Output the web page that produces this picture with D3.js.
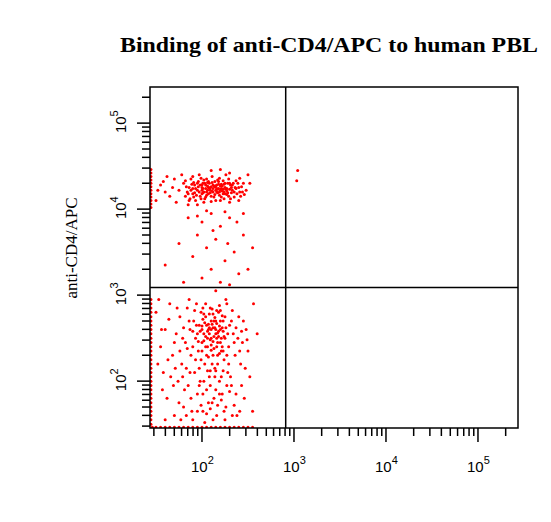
<!DOCTYPE html>
<html><head><meta charset="utf-8">
<script src="https://cdn.jsdelivr.net/npm/d3@7"></script>
<style>body{margin:0;background:#fff}</style></head>
<body><svg id="c" width="551" height="522"></svg>
<script>
// data in log10 units [log x, log y]
const upperCluster=[[1.75,4.22],[1.8,4.3],[1.82,4.15],[1.86,4.25],[1.88,4.35],[1.9,4.18],[1.92,4.28],[1.93,4.1],[1.95,4.22],[1.96,4.32],[1.97,4.4],[1.98,4.15],[2.0,4.25],[2.01,4.3],[2.02,4.2],[2.03,4.12],[2.04,4.28],[2.05,4.35],[2.06,4.22],[2.07,4.18],[2.08,4.3],[2.09,4.25],[2.1,4.15],[2.11,4.38],[2.12,4.2],[2.13,4.27],[2.14,4.32],[2.15,4.1],[2.16,4.24],[2.17,4.19],[2.18,4.29],[2.19,4.36],[2.2,4.22],[2.21,4.14],[2.22,4.27],[2.23,4.33],[2.24,4.2],[2.25,4.25],[2.26,4.4],[2.27,4.17],[2.28,4.3],[2.3,4.23],[2.31,4.12],[2.33,4.28],[2.35,4.2],[2.37,4.33],[2.4,4.25],[2.42,4.15],[2.45,4.3],[2.48,4.22],[2.5,4.4],[1.85,4.05],[1.95,4.05],[2.1,4.45],[2.2,4.46],[2.3,4.42],[1.6,4.2],[1.55,4.28],[1.65,4.15],[1.7,4.35],[1.5,4.1],[1.62,4.38],[1.72,4.08],[1.78,4.4],[2.0,4.18],[2.05,4.2],[2.1,4.26],[2.15,4.22],[2.0,4.22],[2.08,4.24],[2.12,4.28],[2.18,4.24],[2.25,4.18],[1.98,4.28],[2.02,4.34],[1.84,4.2],[1.9,4.24],[1.94,4.16],[1.99,4.36],[2.04,4.14],[2.07,4.32],[2.11,4.21],[2.14,4.17],[2.17,4.34],[2.21,4.29],[2.24,4.12],[2.27,4.24],[2.29,4.35],[2.32,4.19],[2.34,4.3],[2.38,4.18],[2.41,4.36],[2.44,4.2],[2.36,4.25],[1.87,4.12],[1.91,4.31],[2.06,4.27],[2.16,4.28],[2.19,4.2],[2.23,4.23],[1.97,4.2],[2.01,4.24],
[1.83,4.26],[1.85,4.18],[1.89,4.29],[1.91,4.14],[1.93,4.24],[1.96,4.26],[1.99,4.12],[2.01,4.19],[2.03,4.3],[2.05,4.16],[2.07,4.25],[2.09,4.19],[2.11,4.31],[2.13,4.14],[2.15,4.27],[2.17,4.23],[2.19,4.16],[2.21,4.24],[2.23,4.18],[2.25,4.3],[2.27,4.21],[2.29,4.15],[2.31,4.28],[2.33,4.22],[2.35,4.14],[2.37,4.24],[2.39,4.3],[2.41,4.2],[2.43,4.26],[2.46,4.17],[1.88,4.22],[1.92,4.19],[1.95,4.3],[2.0,4.28],[2.04,4.24],[2.06,4.31],[2.09,4.22],[2.12,4.24],[2.14,4.26],[2.16,4.2],[2.18,4.32],[2.2,4.27],[2.22,4.21],[2.24,4.29],[2.26,4.23],[2.28,4.19],[2.3,4.3],[2.32,4.25],[1.82,4.33],[1.86,4.1],[1.9,4.38],[2.02,4.08],[2.1,4.09],[2.2,4.1],[2.3,4.08],[2.4,4.1],[2.52,4.3],[1.68,4.25],[1.58,4.32],[1.52,4.22]];
const lowerCluster=[[1.5,2.8],[1.55,2.4],[1.58,2.1],[1.6,2.6],[1.62,1.8],[1.65,2.9],[1.68,2.3],[1.7,1.6],[1.72,2.55],[1.74,2.0],[1.76,2.75],[1.78,2.2],[1.8,1.7],[1.82,2.45],[1.84,2.85],[1.85,1.95],[1.87,2.6],[1.88,2.3],[1.9,1.55],[1.91,2.7],[1.92,2.1],[1.93,2.5],[1.94,2.9],[1.95,1.85],[1.96,2.35],[1.97,2.65],[1.98,2.0],[1.99,2.8],[2.0,2.45],[2.01,1.65],[2.02,2.55],[2.03,2.2],[2.04,2.75],[2.05,1.9],[2.06,2.4],[2.07,2.6],[2.08,2.05],[2.09,2.85],[2.1,2.5],[2.11,1.75],[2.12,2.3],[2.13,2.7],[2.14,2.15],[2.15,2.55],[2.16,1.6],[2.17,2.45],[2.18,2.8],[2.19,2.0],[2.2,2.6],[2.21,2.35],[2.22,1.85],[2.23,2.7],[2.24,2.25],[2.25,2.5],[2.26,1.7],[2.27,2.9],[2.28,2.1],[2.29,2.4],[2.3,2.65],[2.32,1.95],[2.34,2.55],[2.36,2.3],[2.38,1.6],[2.4,2.75],[2.42,2.2],[2.44,2.45],[2.46,1.8],[2.48,2.6],[2.5,2.35],[2.52,2.05],[2.0,2.6],[2.05,2.65],[2.1,2.7],[2.15,2.6],[2.2,2.7],[2.08,2.55],[2.12,2.62],[2.18,2.58],[2.03,2.68],[2.14,2.74],[2.22,2.62],[2.06,2.5],[2.16,2.5],[2.1,2.42],[2.2,2.45],[2.0,2.35],[2.25,2.75],[1.95,2.55],[2.11,2.84],[2.19,2.88],[2.04,2.9],[2.28,2.55],[2.13,2.38],[2.07,2.28],[2.17,2.2],[2.23,2.12],[2.02,2.0],[2.09,1.95],[2.15,1.9],[2.21,1.78],[1.99,1.72],[2.05,1.62],[2.12,1.55],[2.24,1.65],[2.3,1.88],[1.88,1.8],[1.83,2.15],[1.79,2.5],[1.86,2.95],[1.92,2.82],[2.26,2.95],[2.33,2.82],[2.39,2.5],[2.45,2.7],[2.47,2.15],[2.35,1.72],[1.97,2.15],[2.01,2.85],[2.06,2.12],[2.19,2.32],[2.14,2.05],[2.27,2.3],[2.1,2.6],[2.16,2.67],[2.02,2.47],[2.24,2.52],[1.9,2.4],[1.94,2.65],[2.08,2.78],[2.2,2.82],[1.73,2.85],[1.66,2.05],[1.6,1.55],[1.53,2.95],[2.56,2.9],[2.6,2.55],[2.55,1.65],
[1.98,2.58],[2.01,2.72],[2.04,2.52],[2.07,2.66],[2.09,2.48],[2.11,2.66],[2.13,2.52],[2.15,2.7],[2.17,2.56],[2.19,2.64],[2.21,2.5],[2.23,2.58],[2.0,2.64],[2.06,2.58],[2.12,2.46],[2.18,2.52],[2.14,2.62],[2.08,2.62],[2.16,2.4],[2.1,2.36],[2.22,2.4],[2.04,2.4],[1.96,2.46],[2.26,2.62],[2.02,2.78],[2.12,2.78],[2.22,2.76],[1.9,2.58],[1.84,2.38],[1.8,2.62],[1.86,2.7],[1.76,2.35],[1.7,2.45],[1.64,2.72],[1.56,2.6],[1.52,2.2],[1.57,1.9],[1.63,2.25],[1.69,1.95],[1.75,1.75],[1.81,1.9],[1.87,2.1],[1.93,2.25],[1.99,2.25],[2.05,2.3],[2.11,2.2],[2.17,2.3],[2.23,2.35],[2.29,2.2],[2.35,2.45],[2.41,2.35],[2.32,2.7],[2.37,2.62],[2.43,2.58],[2.49,2.48],[2.31,2.05],[2.27,1.95],[2.19,1.85],[2.13,1.8],[2.07,1.75],[2.01,1.85],[1.95,1.65],[1.89,1.65],[2.03,1.52],[2.09,1.68],[2.17,1.72],[2.25,1.55],[2.33,1.6],[2.41,1.65],[2.43,1.95],[2.37,1.85],[1.77,1.55],[1.83,1.6],[1.71,2.15],[1.79,2.05],[2.09,2.12],[2.15,2.12],[1.97,1.95],[2.21,2.05],[2.16,2.82]];
const sparsePoints=[[1.85,3.9],[2.0,3.85],[2.1,3.95],[2.2,3.8],[2.3,3.9],[2.45,3.7],[1.95,3.7],[2.15,3.65],[2.05,3.55],[2.35,3.5],[1.9,3.45],[2.25,3.4],[2.1,3.3],[2.4,3.25],[2.0,3.2],[1.8,3.15],[2.2,3.15],[2.5,3.3],[2.3,3.12],[2.15,3.05],[1.75,3.6],[2.45,3.95],[2.55,3.55],[1.6,3.35],[2.12,3.75],[2.28,3.6],[2.05,3.98],[2.25,3.97],[1.95,3.92],[2.38,3.85],[3.04,4.45],[3.03,4.33]];
const edgeLeft=[1.5,1.55,1.6,1.65,1.7,1.75,1.8,1.85,1.9,1.95,2.0,2.05,2.1,2.15,2.2,2.25,2.3,2.35,2.4,2.45,2.5,2.55,2.6,2.65,2.7,2.75,2.8,2.85,2.9,2.95,4.02,4.06,4.1,4.14,4.18,4.22,4.26,4.3,4.34,4.38,4.42,4.46];
const edgeBottom=[1.46,1.5,1.55,1.6,1.65,1.7,1.75,1.8,1.85,1.9,1.95,2.0,2.05,2.1,2.15,2.2,2.25,2.3,2.35,2.4,2.45,2.5,2.55];
const quadX=2.91, quadY=3.09;
const xDecades=[2,3,4,5], yDecades=[2,3,4,5];

const svg=d3.select("#c");
const L=150,R=518,T=87,B=428;
const x=d3.scaleLinear().domain([1.435,5.435]).range([L,R]);
const y=d3.scaleLinear().domain([1.455,5.42]).range([B,T]);
const xmin=x.domain()[0], xmax=x.domain()[1], ymin=y.domain()[0], ymax=y.domain()[1];

svg.append("text").attr("x",329).attr("y",52).attr("text-anchor","middle")
 .attr("font-family","Liberation Serif, Times New Roman, serif").attr("font-weight","bold").attr("font-size",22)
 .attr("textLength",418).attr("lengthAdjust","spacingAndGlyphs")
 .text("Binding of anti-CD4/APC to human PBL");
svg.append("text").attr("transform","translate(77,248) rotate(-90)").attr("text-anchor","middle")
 .attr("font-family","Liberation Serif, Times New Roman, serif").attr("font-size",17).text("anti-CD4/APC");

svg.append("clipPath").attr("id","cl").append("rect").attr("x",L).attr("y",T).attr("width",R-L).attr("height",B-T);
const g=svg.append("g").attr("clip-path","url(#cl)");
const all=upperCluster.concat(lowerCluster,sparsePoints,edgeLeft.map(v=>[xmin+0.01,v]),edgeBottom.map(v=>[v,ymin+0.01]));
g.selectAll("circle").data(all).join("circle").attr("cx",d=>x(d[0])).attr("cy",d=>y(d[1])).attr("r",1.5).attr("fill","#f00");

function ticks(lo,hi){const t=[];for(let d=1;d<=5;d++)for(let m=1;m<=9;m++){const v=d+Math.log10(m);if(v>=lo&&v<=hi)t.push({v,major:m===1});}return t;}
svg.selectAll(".xt").data(ticks(xmin+0.02,xmax-0.05)).join("line").attr("x1",d=>x(d.v)).attr("x2",d=>x(d.v))
 .attr("y1",B).attr("y2",d=>B+(d.major?14:8)).attr("stroke","#000").attr("stroke-width",1.5);
svg.selectAll(".yt").data(ticks(ymin+0.02,ymax-0.05)).join("line").attr("y1",d=>y(d.v)).attr("y2",d=>y(d.v))
 .attr("x1",L).attr("x2",d=>L-(d.major?13:8)).attr("stroke","#000").attr("stroke-width",1.5);

const ff="Liberation Sans, Arial, sans-serif";
xDecades.forEach(d=>{const t=svg.append("text").attr("x",x(d)-11).attr("y",472).attr("font-family",ff).attr("font-size",15);
 t.append("tspan").text("10");t.append("tspan").attr("dy",-8).attr("font-size",11).text(d);});
yDecades.forEach(d=>{const t=svg.append("text").attr("transform",`translate(${L-24},${y(d)+10}) rotate(-90)`).attr("font-family",ff).attr("font-size",15);
 t.append("tspan").text("10");t.append("tspan").attr("dy",-8).attr("font-size",11).text(d);});

svg.append("rect").attr("x",L).attr("y",T).attr("width",R-L).attr("height",B-T).attr("fill","none").attr("stroke","#000").attr("stroke-width",1.5);
svg.append("line").attr("x1",x(quadX)).attr("x2",x(quadX)).attr("y1",T).attr("y2",B).attr("stroke","#000").attr("stroke-width",1.5);
svg.append("line").attr("x1",L).attr("x2",R).attr("y1",y(quadY)).attr("y2",y(quadY)).attr("stroke","#000").attr("stroke-width",1.5);
</script></body></html>
